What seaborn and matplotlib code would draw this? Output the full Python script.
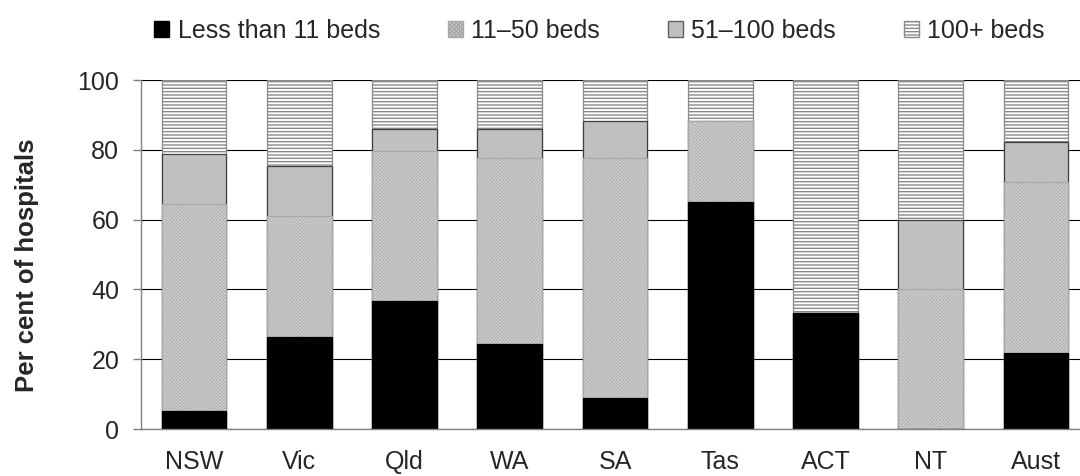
import numpy as np
import pandas as pd
import matplotlib
matplotlib.use('Agg')
import matplotlib.pyplot as plt
from matplotlib.patches import Patch
from matplotlib.ticker import FixedLocator
import seaborn as sns

sns.set_style('white')
plt.rcParams['font.family'] = ['Liberation Sans', 'DejaVu Sans']

# 데이터 (그림에서 읽은 값, %)
states = ['NSW', 'Vic', 'Qld', 'WA', 'SA', 'Tas', 'ACT', 'NT', 'Aust']
beds_lt11 = [5.2, 26.4, 36.8, 24.5, 8.8, 65.2, 33.3, 0.0, 21.7]
beds_11_50 = [59.4, 34.7, 42.8, 53.2, 68.9, 23.2, 0.0, 40.0, 49.1]
beds_51_100 = [14.2, 14.3, 6.5, 8.4, 10.7, 0.0, 0.0, 20.0, 11.4]
beds_100p = [21.2, 24.6, 13.9, 13.9, 11.6, 11.6, 66.7, 40.0, 17.8]
series_names = ['Less than 11 beds', '11\u201350 beds', '51\u2013100 beds', '100+ beds']

df = pd.DataFrame({'state': states, 'lt11': beds_lt11, 'b11_50': beds_11_50,
                   'b51_100': beds_51_100, 'b100p': beds_100p})
df['c1'] = df['lt11']
df['c2'] = df['c1'] + df['b11_50']
df['c3'] = df['c2'] + df['b51_100']
df['c4'] = df['c3'] + df['b100p']

# 스타일: (누적열, 면색, 테두리/해치색, 해치, 해치두께)
styles = [
    ('c4', 'white', '#8a8a8a', '-----', 1.0),
    ('c3', '#c0c0c0', '#404040', None, 1.0),
    ('c2', '#cfcfcf', '#a8a8a8', 'xxxxxxxxxx', 0.3),
    ('c1', 'black', 'black', None, 1.0),
]

fig = plt.figure(figsize=(10.8, 4.76), dpi=100)
ax = fig.add_axes([0.131, 0.0987, 0.877, 0.733])

for col, fc, ec, hatch, hlw in styles:
    plt.rcParams['hatch.linewidth'] = hlw
    n_before = len(ax.patches)
    sns.barplot(data=df, x='state', y=col, order=states, color=fc, width=0.615,
                edgecolor=ec, linewidth=0.9, hatch=hatch, saturation=1, ax=ax)
    for p in ax.patches[n_before:]:
        p.set_facecolor(fc)
        if hasattr(p, 'set_hatch_linewidth'):
            p.set_hatch_linewidth(hlw)

ax.set_xlim(-0.5, len(states) - 0.5)
ax.set_ylim(0, 100)
ax.set_yticks(np.arange(0, 101, 20))
ax.yaxis.grid(True, color='black', linewidth=0.8)
ax.xaxis.grid(False)
ax.set_axisbelow(True)

for s in ['top', 'right']:
    ax.spines[s].set_visible(False)
for s in ['left', 'bottom']:
    ax.spines[s].set_color('#808080')
    ax.spines[s].set_linewidth(1.0)

ax.tick_params(axis='x', which='major', length=0, pad=15, labelsize=18)
ax.xaxis.set_minor_locator(FixedLocator(np.arange(-0.5, len(states), 1.0)))
ax.tick_params(axis='x', which='minor', length=5.5, width=1, color='#808080', direction='out')
ax.tick_params(axis='y', length=6, width=1, color='#808080', pad=10, labelsize=18, left=True)

ax.set_xlabel('')
ax.set_ylabel('Per cent of hospitals', fontsize=18.5, fontweight='bold')
ax.yaxis.set_label_coords(-0.108, 0.47)

plt.rcParams['hatch.linewidth'] = 1.0
handles = [
    Patch(facecolor='black', edgecolor='black', label=series_names[0]),
    Patch(facecolor='#cfcfcf', edgecolor='#a8a8a8', hatch='xxxxxxxx', label=series_names[1]),
    Patch(facecolor='#c0c0c0', edgecolor='#606060', label=series_names[2]),
    Patch(facecolor='white', edgecolor='#8a8a8a', hatch='-----', label=series_names[3]),
]
fig.legend(handles=handles, loc='center', bbox_to_anchor=(0.555, 0.935), ncol=4,
           frameon=False, fontsize=18, handlelength=0.6, handleheight=0.6,
           handletextpad=0.35, columnspacing=2.7)

plt.savefig('out.png', dpi=100)
plt.close()
